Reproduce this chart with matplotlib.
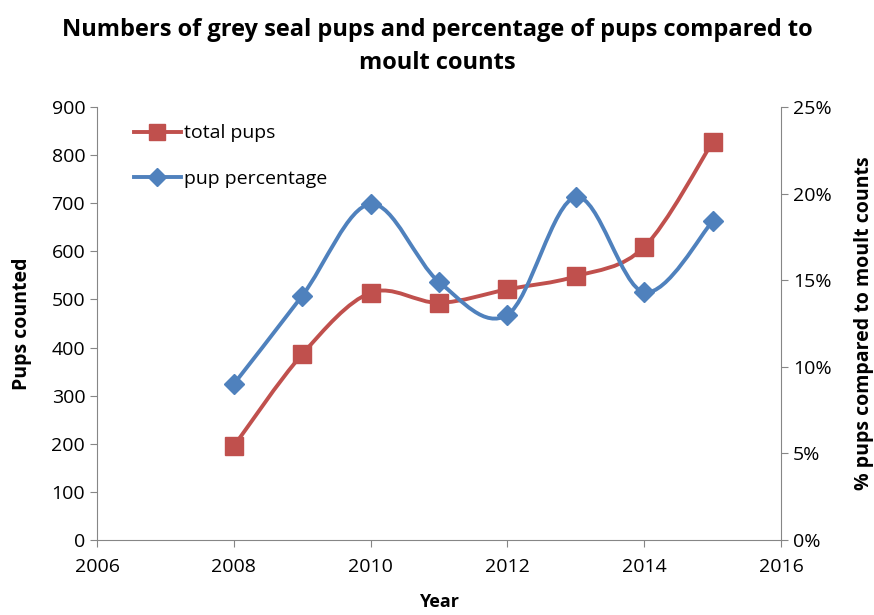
import matplotlib.pyplot as plt
from matplotlib.path import Path
from matplotlib.patches import PathPatch
from matplotlib.lines import Line2D
from matplotlib.ticker import FuncFormatter

plt.rcParams['font.family'] = ['Open Sans', 'DejaVu Sans']

years = [2008, 2009, 2010, 2011, 2012, 2013, 2014, 2015]
total_pups = [195, 386, 514, 493, 521, 548, 609, 827]
pup_pct = [0.090, 0.141, 0.194, 0.149, 0.130, 0.198, 0.143, 0.184]

RED = "#C0504D"
BLUE = "#4F81BD"


def smooth_path(x, y):
    # Excel-style smoothed line: cubic bezier through each point
    verts = [(x[0], y[0])]
    codes = [Path.MOVETO]
    n = len(x)
    for i in range(n - 1):
        x0, y0 = (x[i - 1], y[i - 1]) if i > 0 else (x[i], y[i])
        x3, y3 = (x[i + 2], y[i + 2]) if i + 2 < n else (x[i + 1], y[i + 1])
        c1 = (x[i] + (x[i + 1] - x0) / 6, y[i] + (y[i + 1] - y0) / 6)
        c2 = (x[i + 1] - (x3 - x[i]) / 6, y[i + 1] - (y3 - y[i]) / 6)
        verts += [c1, c2, (x[i + 1], y[i + 1])]
        codes += [Path.CURVE4] * 3
    return Path(verts, codes)


fig = plt.figure(figsize=(8.74, 6.15), dpi=100)
ax = fig.add_axes([0.111, 0.122, 0.7826, 0.704])
ax2 = ax.twinx()

ax.add_patch(PathPatch(smooth_path(years, total_pups), fill=False,
                       edgecolor=RED, lw=2.8, zorder=2))
ax.plot(years, total_pups, ls="none", marker="s", ms=13, color=RED, zorder=3)

ax2.add_patch(PathPatch(smooth_path(years, pup_pct), fill=False,
                        edgecolor=BLUE, lw=2.8, zorder=2))
ax2.plot(years, pup_pct, ls="none", marker="D", ms=10, color=BLUE, zorder=3)

ax.set_xlim(2006, 2016)
ax.set_ylim(0, 900)
ax2.set_ylim(0, 0.25)
ax.set_xticks(range(2006, 2017, 2))
ax.set_yticks(range(0, 901, 100))
ax2.set_yticks([0, 0.05, 0.10, 0.15, 0.20, 0.25])
ax2.yaxis.set_major_formatter(FuncFormatter(lambda v, p: f"{v*100:.0f}%"))

for a in (ax, ax2):
    for s in a.spines.values():
        s.set_visible(False)
    a.tick_params(labelsize=14, length=5, color="#868686", direction="out")
ax.spines["left"].set_visible(True)
ax.spines["bottom"].set_visible(True)
ax2.spines["right"].set_visible(True)
for s in (ax.spines["left"], ax.spines["bottom"], ax2.spines["right"]):
    s.set_color("#868686")
ax.tick_params(axis="x", pad=8)

ax.set_xlabel("Year", fontsize=13, fontweight="bold", labelpad=12)
ax.set_ylabel("Pups counted", fontsize=14, fontweight="bold", labelpad=14)
ax2.set_ylabel("% pups compared to moult counts", fontsize=14,
               fontweight="bold", labelpad=16)

fig.suptitle("Numbers of grey seal pups and percentage of pups compared to\nmoult counts",
             fontsize=17, fontweight="bold", y=0.97, linespacing=1.45)

handles = [Line2D([], [], color=RED, lw=2.8, marker="s", ms=11),
           Line2D([], [], color=BLUE, lw=2.8, marker="D", ms=9)]
ax.legend(handles, ["total pups", "pup percentage"], loc="upper left",
          bbox_to_anchor=(0.054, 0.96), frameon=False, fontsize=14,
          borderpad=0, borderaxespad=0,
          handlelength=2.4, handletextpad=0.15, labelspacing=1.4)

fig.savefig("out.png", dpi=100)
